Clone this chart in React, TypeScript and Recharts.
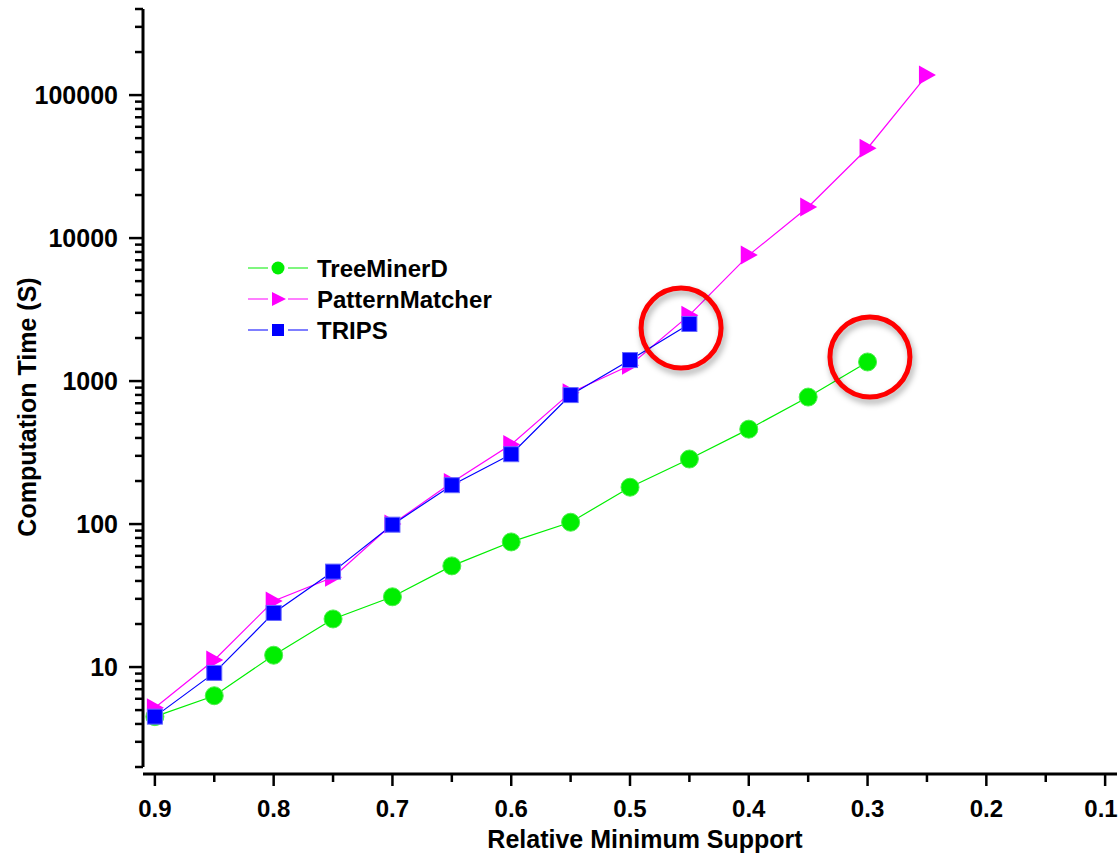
import React from 'react';
import {
  LineChart,
  Line,
  XAxis,
  YAxis,
  Legend,
  ReferenceDot,
} from 'recharts';

// relative minimum support levels (x)
const support = [0.9, 0.85, 0.8, 0.75, 0.7, 0.65, 0.6, 0.55, 0.5, 0.45, 0.4, 0.35, 0.3, 0.25];

// computation time in seconds
const treeMinerDTime = [4.5, 6.3, 12.1, 21.7, 31, 51, 75, 103, 181, 285, 461, 773, 1360];
const patternMatcherTime = [5.2, 11.2, 29, 42.5, 100, 195, 360, 830, 1290, 2890, 7600, 16500, 42500, 138000];
const tripsTime = [4.5, 9.1, 23.9, 46.5, 99, 187, 308, 798, 1403, 2508];

const xTicks = [0.9, 0.85, 0.8, 0.75, 0.7, 0.65, 0.6, 0.55, 0.5, 0.45, 0.4, 0.35, 0.3, 0.25, 0.2, 0.15, 0.1];
const yMajorTicks = [10, 100, 1000, 10000, 100000];
const yMinorSteps = [2, 3, 4, 5, 6, 7, 8, 9];

// red highlight circles
const highlights = [
  { x: 0.457, y: 2350 },
  { x: 0.298, y: 1472 },
];

const GREEN = '#00ee00';
const MAGENTA = '#ff00ff';
const BLUE = '#0000ff';

const toPoints = (values: number[]) => values.map((y, i) => ({ x: support[i], y }));

const treeMinerD = toPoints(treeMinerDTime);
const patternMatcher = toPoints(patternMatcherTime);
const trips = toPoints(tripsTime);

const yTicks: number[] = [];
[1, ...yMajorTicks].forEach((base) => {
  if (base > 1) yTicks.push(base);
  yMinorSteps.forEach((m) => {
    const v = base * m;
    if (v >= 2 && v <= 400000) yTicks.push(v);
  });
});
yTicks.sort((a, b) => a - b);

const FONT = '"Liberation Sans", Arial, Helvetica, sans-serif';

const renderCircle = (p: any) => {
  if (p.cx == null || p.cy == null) return <g key={`c-${p.index}`} />;
  return <circle key={`c-${p.index}`} cx={p.cx} cy={p.cy} r={9} fill={GREEN} stroke="#4cf04c" strokeWidth={1} />;
};

const renderTriangle = (p: any) => {
  if (p.cx == null || p.cy == null) return <g key={`t-${p.index}`} />;
  const { cx, cy } = p;
  return (
    <path
      key={`t-${p.index}`}
      d={`M${cx - 8},${cy - 9.5} L${cx + 9},${cy} L${cx - 8},${cy + 9.5} Z`}
      fill={MAGENTA}
    />
  );
};

const renderSquare = (p: any) => {
  if (p.cx == null || p.cy == null) return <g key={`s-${p.index}`} />;
  return (
    <rect
      key={`s-${p.index}`}
      x={p.cx - 7.5}
      y={p.cy - 7.5}
      width={15}
      height={15}
      fill={BLUE}
      stroke="#6666ff"
      strokeWidth={1}
    />
  );
};

const XTick = (props: any) => {
  const { x, y, payload } = props;
  const v = payload.value as number;
  const major = Math.round(v * 100) % 10 === 0;
  const top = y + 7;
  // keep the rightmost label inside the frame
  const lx = Math.min(x, 1119 - 18);
  return (
    <g>
      <line x1={x} y1={top} x2={x} y2={top + (major ? 12 : 8)} stroke="#000" strokeWidth={2.5} />
      {major && (
        <text x={lx} y={y + 50} textAnchor="middle" fontFamily={FONT} fontWeight="bold" fontSize={24} fill="#000">
          {v.toFixed(1)}
        </text>
      )}
    </g>
  );
};

const YTick = (props: any) => {
  const { x, y, payload } = props;
  const v = payload.value as number;
  const major = yMajorTicks.includes(v);
  return (
    <g>
      <line x1={x} y1={y} x2={x - (major ? 14 : 8)} y2={y} stroke="#000" strokeWidth={2.5} />
      {major && (
        <text x={x - 25} y={y} dy="0.36em" textAnchor="end" fontFamily={FONT} fontWeight="bold" fontSize={25} fill="#000">
          {v}
        </text>
      )}
    </g>
  );
};

const legendItems = [
  { name: 'TreeMinerD', color: GREEN, shape: 'circle' },
  { name: 'PatternMatcher', color: MAGENTA, shape: 'triangle' },
  { name: 'TRIPS', color: BLUE, shape: 'square' },
];

const LegendContent = () => (
  <svg width={260} height={100}>
    {legendItems.map((item, i) => {
      const cy = 18 + i * 31;
      const mx = 38;
      let marker: React.ReactNode;
      if (item.shape === 'circle') marker = <circle cx={mx} cy={cy} r={6.5} fill={item.color} />;
      else if (item.shape === 'triangle')
        marker = <path d={`M${mx - 6},${cy - 7} L${mx + 8},${cy} L${mx - 6},${cy + 7} Z`} fill={item.color} />;
      else marker = <rect x={mx - 6} y={cy - 6} width={12} height={12} fill={item.color} />;
      return (
        <g key={item.name}>
          <line x1={8} y1={cy} x2={68} y2={cy} stroke={item.color} strokeWidth={1.2} />
          <rect x={mx - 10} y={cy - 8} width={20} height={16} fill="#fff" />
          {marker}
          <text x={77} y={cy} dy="0.36em" fontFamily={FONT} fontWeight="bold" fontSize={24} fill="#000">
            {item.name}
          </text>
        </g>
      );
    })}
  </svg>
);

export default function App() {
  return (
    <div style={{ position: 'absolute', left: 0, top: 0, background: '#fff' }}>
      <LineChart width={1119} height={859} margin={{ top: 9, right: 2, left: 0, bottom: 0 }}>
        <XAxis
          type="number"
          dataKey="x"
          domain={[0.09, 0.91]}
          reversed
          allowDataOverflow
          ticks={xTicks}
          interval={0}
          height={92}
          tickSize={0}
          tickMargin={0}
          tick={<XTick />}
          axisLine={{ stroke: '#000', strokeWidth: 3, transform: 'translate(0 7)' }}
          tickLine={false}
          label={({ viewBox }: any) => (
            <text
              x={viewBox.x + viewBox.width / 2 + 15}
              y={viewBox.y + 81}
              textAnchor="middle"
              fontFamily={FONT}
              fontWeight="bold"
              fontSize={25}
              fill="#000"
            >
              Relative Minimum Support
            </text>
          )}
        />
        <YAxis
          type="number"
          scale="log"
          domain={[2, 400000]}
          allowDataOverflow
          ticks={yTicks}
          interval={0}
          width={143}
          tickSize={0}
          tickMargin={0}
          tick={<YTick />}
          axisLine={{ stroke: '#000', strokeWidth: 3 }}
          tickLine={false}
          label={({ viewBox }: any) => (
            <text
              x={27}
              y={viewBox.y + viewBox.height / 2 + 19}
              transform={`rotate(-90 27 ${viewBox.y + viewBox.height / 2 + 19})`}
              textAnchor="middle"
              dy="0.36em"
              fontFamily={FONT}
              fontWeight="bold"
              fontSize={25}
              fill="#000"
            >
              Computation Time (S)
            </text>
          )}
        />
        <Legend
          layout="vertical"
          align="center"
          verticalAlign="middle"
          content={<LegendContent />}
          wrapperStyle={{ position: 'absolute', left: 240, top: 250, width: 260, height: 100 }}
        />
        <Line
          data={treeMinerD}
          dataKey="y"
          name="TreeMinerD"
          stroke={GREEN}
          strokeWidth={1.2}
          dot={renderCircle}
          activeDot={false}
          isAnimationActive={false}
        />
        <Line
          data={patternMatcher}
          dataKey="y"
          name="PatternMatcher"
          stroke={MAGENTA}
          strokeWidth={1.2}
          dot={renderTriangle}
          activeDot={false}
          isAnimationActive={false}
        />
        <Line
          data={trips}
          dataKey="y"
          name="TRIPS"
          stroke={BLUE}
          strokeWidth={1.2}
          dot={renderSquare}
          activeDot={false}
          isAnimationActive={false}
        />
        {highlights.map((h, i) => (
          <ReferenceDot
            key={i}
            x={h.x}
            y={h.y}
            r={40}
            fill="none"
            stroke="#ff0000"
            strokeWidth={5}
            style={{ filter: 'drop-shadow(2px 4px 3px rgba(0,0,0,0.35))' }}
          />
        ))}
      </LineChart>
    </div>
  );
}
